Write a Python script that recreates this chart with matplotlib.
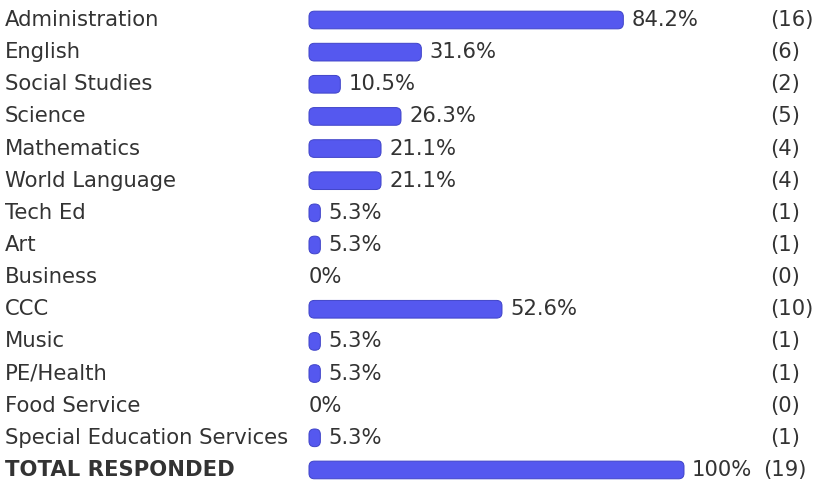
import matplotlib.pyplot as plt
from matplotlib.patches import FancyBboxPatch
import matplotlib.transforms as mtransforms

categories = ["Administration", "English", "Social Studies", "Science", "Mathematics",
              "World Language", "Tech Ed", "Art", "Business", "CCC", "Music",
              "PE/Health", "Food Service", "Special Education Services", "TOTAL RESPONDED"]
percents = [84.2, 31.6, 10.5, 26.3, 21.1, 21.1, 5.3, 5.3, 0, 52.6, 5.3, 5.3, 0, 5.3, 100]
counts = [16, 6, 2, 5, 4, 4, 1, 1, 0, 10, 1, 1, 0, 1, 19]
pct_labels = ["84.2%", "31.6%", "10.5%", "26.3%", "21.1%", "21.1%", "5.3%", "5.3%", "0%",
              "52.6%", "5.3%", "5.3%", "0%", "5.3%", "100%"]

W, H = 814, 487
fig = plt.figure(figsize=(W / 100, H / 100), dpi=100)
row_px = 32.14
top_px = 20
# axes: x in percent (0% at px 300, 100% at px 684), y in row index
ax = fig.add_axes([300 / W, 0, 384 / W, 1])
ax.set_xlim(0, 100)
ax.set_ylim((H - top_px) / row_px, -top_px / row_px)
ax.axis("off")

bar_start = 2.34
bar_h = 0.55
px_per_x = 384 / 100
color = "#5558ef"
edge = "#3f43c8"
text_color = "#333333"
fs = 15.2

label_tf = mtransforms.blended_transform_factory(fig.transFigure, ax.transData)

for i, (cat, p, c, pl) in enumerate(zip(categories, percents, counts, pct_labels)):
    bold = cat == "TOTAL RESPONDED"
    ax.text(5 / W, i, cat, transform=label_tf, va="center", ha="left",
            fontsize=fs, color=text_color, fontweight="bold" if bold else "normal")
    if p > 0:
        r = 1.4
        box = FancyBboxPatch((bar_start, i - bar_h / 2), p - bar_start, bar_h,
                             boxstyle=f"round,pad=0,rounding_size={r}",
                             mutation_aspect=px_per_x / row_px,
                             facecolor=color, edgecolor=edge, linewidth=0.7,
                             clip_on=False)
        ax.add_patch(box)
        tx = p + 2.1
    else:
        tx = bar_start
    ax.text(tx, i, pl, va="center", ha="left", fontsize=fs, color=text_color, clip_on=False)
    cx = 763 if bold else 770
    ax.text(cx / W, i, f"({c})", transform=label_tf, va="center", ha="left",
            fontsize=fs, color=text_color)

fig.savefig("out.png", dpi=100, facecolor="white")
